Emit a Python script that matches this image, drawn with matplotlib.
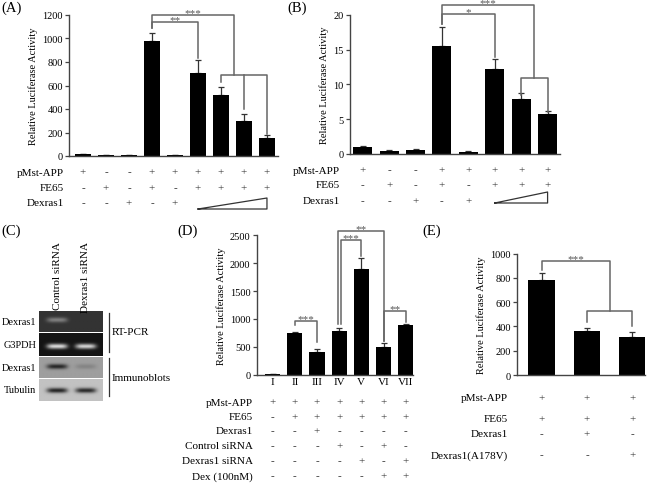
import numpy as np
import matplotlib
matplotlib.use("Agg")
import matplotlib.pyplot as plt
from matplotlib.transforms import blended_transform_factory

plt.rcParams['font.family'] = ['Liberation Serif', 'DejaVu Serif']

W, H = 656, 485

# === DATA ===
a_vals = [15, 8, 8, 980, 8, 705, 520, 295, 150]
a_err = [5, 3, 3, 70, 2, 110, 70, 62, 25]
a_rows = ['pMst-APP', 'FE65', 'Dexras1']
a_signs = [list('+--++++++'), list('-+-+-++++'), list('--+-+')]

b_vals = [1.0, 0.45, 0.55, 15.5, 0.35, 12.2, 7.9, 5.8]
b_err = [0.1, 0.15, 0.1, 2.7, 0.1, 1.5, 0.9, 0.4]
b_rows = ['pMst-APP', 'FE65', 'Dexras1']
b_signs = [list('+--+++++'), list('-+-+-+++'), list('--+-+')]

d_labels = ['I', 'II', 'III', 'IV', 'V', 'VI', 'VII']
d_vals = [5, 750, 400, 780, 1900, 490, 890]
d_err = [2, 20, 65, 50, 200, 70, 25]
d_rows = ['pMst-APP', 'FE65', 'Dexras1', 'Control siRNA', 'Dexras1 siRNA', 'Dex (100nM)']
d_signs = [list('+++++++'), list('-++++++'), list('--+----'),
           list('---+-+-'), list('----+-+'), list('-----++')]

e_vals = [780, 365, 315]
e_err = [60, 20, 40]
e_rows = ['pMst-APP', 'FE65', 'Dexras1', 'Dexras1(A178V)']
e_signs = [list('+++'), list('+++'), list('-+-'), list('--+')]

# gel band intensities (lane 1 = Control siRNA, lane 2 = Dexras1 siRNA)
gel_rows = ['Dexras1', 'G3PDH', 'Dexras1', 'Tubulin']
gel_bg = [0.2, 0.08, 0.62, 0.76]
gel_band = [[0.30, 0.0], [0.78, 0.75], [-0.47, -0.10], [-0.62, -0.60]]
gel_pos = [0.42, 0.58, 0.45, 0.52]

GRAY = '#555555'
fig = plt.figure(figsize=(W / 100, H / 100), dpi=100)


def rect(l, t, r, b):
    return [l / W, 1 - b / H, (r - l) / W, (b - t) / H]


def fy(y):
    return 1 - y / H


def bar_axes(box, vals, err, ylim, yticks, xlim, width):
    ax = fig.add_axes(rect(*box))
    x = np.arange(len(vals))
    ax.bar(x, vals, width=width, color='black', zorder=2)
    ax.errorbar(x, vals, yerr=[np.zeros(len(err)), err], fmt='none',
                ecolor='#333333', elinewidth=0.9, capsize=2.5, capthick=0.9, zorder=1)
    ax.set_xlim(*xlim)
    ax.set_ylim(*ylim)
    ax.set_yticks(yticks)
    ax.set_xticks([])
    for s in ['top', 'right']:
        ax.spines[s].set_visible(False)
    for s in ['left', 'bottom']:
        ax.spines[s].set_color('#444444')
        ax.spines[s].set_linewidth(1.0)
    ax.tick_params(axis='y', direction='out', length=3, width=0.9,
                   color='#444444', labelsize=7.5, pad=1.5)
    return ax


def bracket(ax, x1, x2, y, y1, y2, stars, tx=None):
    ax.plot([x1, x1, x2, x2], [y1, y, y, y2], color='#666666', lw=1.1,
            clip_on=False, zorder=3)
    if stars:
        ax.annotate(stars, ((x1 + x2) / 2 if tx is None else tx, y), xytext=(0, -0.3),
                    textcoords='offset points', ha='center', va='baseline',
                    fontsize=8, color=GRAY, annotation_clip=False)


def table(ax, rows, signs, ys, label_x, fs=8):
    tr = blended_transform_factory(ax.transData, fig.transFigure)
    for name, row, y in zip(rows, signs, ys):
        fig.text(label_x / W, fy(y), name, ha='right', va='center', fontsize=fs)
        for i, s in enumerate(row):
            ax.text(i, fy(y), s, transform=tr, ha='center', va='center',
                    fontsize=8, color='#333333')


def ramp(ax, x1, x2, ybot, ytop):
    tr = blended_transform_factory(ax.transData, fig.transFigure)
    ax.plot([x1, x2, x2, x1], [fy(ybot), fy(ybot), fy(ytop), fy(ybot)],
            transform=tr, color='#333333', lw=0.9, clip_on=False)


# === PANEL A ===
axA = bar_axes((69, 16, 278, 157), a_vals, a_err, (0, 1200), range(0, 1201, 200),
               (-0.61, 8.48), 0.68)
axA.set_ylabel('Relative Luciferase Activity', fontsize=7.5, labelpad=3)
bracket(axA, 3, 5, 1143, 1087, 831, '**')
bracket(axA, 3, 6.55, 1200, 1087, 690, '***')
bracket(axA, 6, 8, 690, 627, 187, '')
axA.plot([7, 7], [690, 400], color='#666666', lw=1.1)
table(axA, a_rows, a_signs, [173, 189, 204], 64)
ramp(axA, 5, 8, 210, 199)

# === PANEL B ===
axB = bar_axes((350, 15.7, 560, 155), b_vals, b_err, (0, 20), range(0, 21, 5),
               (-0.48, 7.47), 0.72)
axB.set_ylabel('Relative Luciferase Activity', fontsize=7.5, labelpad=3)
bracket(axB, 3, 5, 20.1, 18.7, 13.9, '*')
bracket(axB, 3, 6.5, 21.4, 18.7, 10.9, '***')
bracket(axB, 6, 7, 10.9, 8.4, 6.1, '')
table(axB, b_rows, b_signs, [171, 186, 202], 340)
ramp(axB, 5, 7, 204, 193)

# === PANEL D ===
axD = bar_axes((256.7, 236.3, 413, 375.7), d_vals, d_err, (0, 2500), range(0, 2501, 500),
               (-0.72, 6.33), 0.68)
axD.set_ylabel('Relative Luciferase Activity', fontsize=7.5, labelpad=3)
axD.set_xticks(range(len(d_labels)))
axD.set_xticklabels(d_labels, fontsize=8)
axD.tick_params(axis='x', length=0, pad=2)
bracket(axD, 1, 2, 962, 900, 580, '***')
bracket(axD, 3.08, 4, 2419, 908, 2133, '***')
bracket(axD, 2.95, 5, 2580, 908, 600, '**')
bracket(axD, 5, 6, 1150, 600, 950, '**')
table(axD, d_rows, d_signs, [403, 418, 432, 447, 462, 477], 253)

# === PANEL E ===
axE = bar_axes((517.3, 254.7, 645, 376), e_vals, e_err, (0, 1000), range(0, 1001, 200),
               (-0.54, 2.28), 0.59)
axE.set_ylabel('Relative Luciferase Activity', fontsize=7.5, labelpad=3)
bracket(axE, 0, 1.5, 942, 868, 530, '***')
bracket(axE, 1, 2, 530, 440, 403, '')
table(axE, e_rows, e_signs, [399, 420, 435, 456], 508)

# === PANEL C (gel) ===
axC = fig.add_axes([0, 0, 1, 1], zorder=-1)
axC.set_xlim(0, W)
axC.set_ylim(H, 0)
axC.axis('off')
gel_l, gel_r = 39, 103
row_tops = [312, 334, 358, 380]
row_bots = [333, 357, 379, 402]
lane_c = [57, 86]
for k in range(4):
    t, b = row_tops[k], row_bots[k]
    xx = np.linspace(gel_l, gel_r, 80)
    yy = np.linspace(t, b, 30)
    X, Y = np.meshgrid(xx, yy)
    img = np.full(X.shape, gel_bg[k])
    cy = t + gel_pos[k] * (b - t)
    for lc, amp in zip(lane_c, gel_band[k]):
        img += amp * np.exp(-((X - lc) / 10.5) ** 4) * np.exp(-((Y - cy) / 2.6) ** 2)
    axC.imshow(np.clip(img, 0, 1), cmap='gray', vmin=0, vmax=1, extent=(gel_l, gel_r, b, t),
               interpolation='bilinear', aspect='auto')
    axC.text(36, (t + b) / 2, gel_rows[k], ha='right', va='center', fontsize=7.5)
axC.text(lane_c[0], 242, 'Control siRNA', rotation=90, ha='center', va='top', fontsize=8)
axC.text(lane_c[1], 242, 'Dexras1 siRNA', rotation=90, ha='center', va='top', fontsize=8)
axC.plot([109, 109], [314, 353], color='#333333', lw=0.9)
axC.plot([109, 109], [359, 397], color='#333333', lw=0.9)
axC.text(112, 333, 'RT-PCR', ha='left', va='center', fontsize=8)
axC.text(112, 379, 'Immunoblots', ha='left', va='center', fontsize=8)

# === PANEL LABELS ===
for lab, x, y in [('(A)', 1, 8), ('(B)', 287, 8), ('(C)', 1, 231), ('(D)', 177, 231), ('(E)', 422, 231)]:
    fig.text(x / W, fy(y), lab, ha='left', va='center', fontsize=10.5)

fig.savefig('out.png', dpi=100)
